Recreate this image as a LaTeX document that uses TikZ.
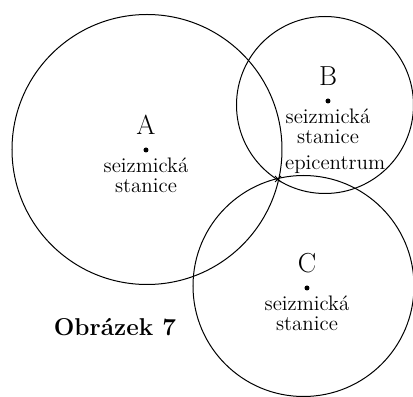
\documentclass[tikz,border=0pt]{standalone}
\usepackage{tikz}
\usetikzlibrary{positioning}
\newcommand{\krizek}[1]{\draw (#1) +(-3,-3) -- +(3,3);
	\draw (#1) +(-3,3) -- +(3,-3)}

\begin{document}
\begin{tikzpicture}[x=0.6pt,y=0.6pt,line width=0.6pt,
	stanice/.style={circle,fill,inner sep=0pt,minimum size=3pt},
	jmeno/.style={inner sep=0pt,font=\fontsize{16.5}{18}\selectfont},
	popis/.style={inner sep=0pt,align=center,font=\fontsize{12.6}{12}\selectfont}]
	\useasboundingbox (0,0) rectangle (413,-397);
		\node[stanice] (a) at (146,-150) {};
		\node[stanice] (b) at (328,-101) {};
		\node[stanice] (c) at (307,-288) {};
		\coordinate (epi) at (278,-179);
			\draw (147,-149.5) circle (135);
			\draw (325,-105) circle (88.5);
			\draw (303.5,-286) circle (110.5);
				\krizek{epi};
		\node[jmeno,above=7pt of a] {A};
		\node[jmeno,above=7pt of b] {B};
		\node[jmeno,above=7pt of c] {C};
		\node[popis,below=2.5pt of a] {seizmická\\stanice};
		\node[popis,below=2.5pt of b] {seizmická\\stanice};
		\node[popis,below=2.5pt of c] {seizmická\\stanice};
		\node[popis,above right=3pt and 4pt of epi] (epitext) {epicentrum};
	\node[font=\fontsize{14.6}{16}\selectfont\bfseries] (obr) at (115,-327) {Obrázek 7};
\end{tikzpicture}
\end{document}
